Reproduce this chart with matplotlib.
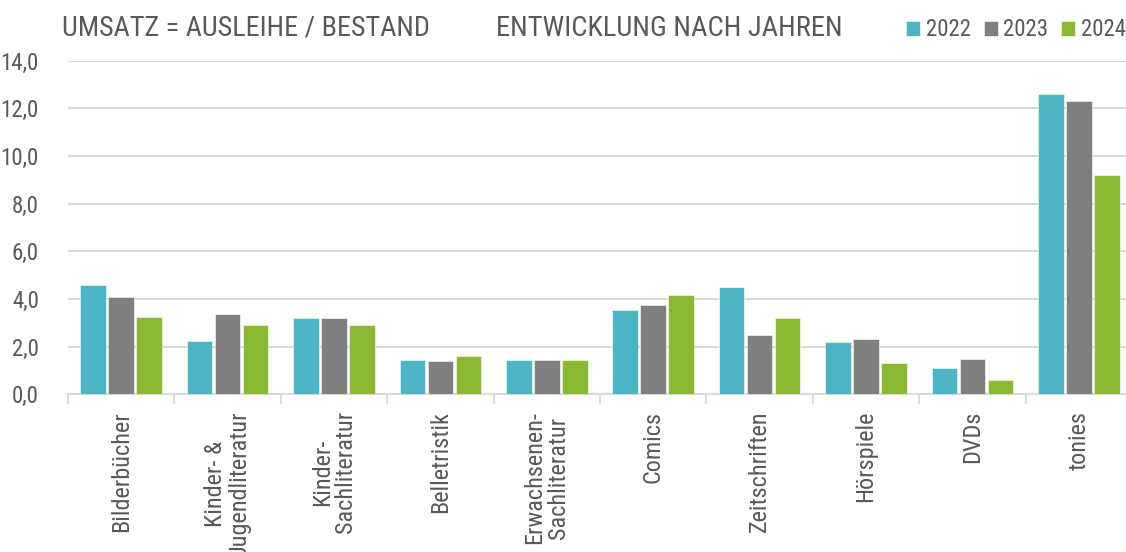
import numpy as np
import matplotlib
matplotlib.use("Agg")
import matplotlib.pyplot as plt

categories = ["Bilderbücher", "Kinder- &\nJugendliteratur", "Kinder-\nSachliteratur",
              "Belletristik", "Erwachsenen-\nSachliteratur", "Comics", "Zeitschriften",
              "Hörspiele", "DVDs", "tonies"]
years = ["2022", "2023", "2024"]
v2022 = [4.6, 2.25, 3.2, 1.42, 1.42, 3.55, 4.5, 2.2, 1.1, 12.6]
v2023 = [4.1, 3.35, 3.22, 1.38, 1.42, 3.76, 2.5, 2.3, 1.48, 12.3]
v2024 = [3.25, 2.9, 2.9, 1.6, 1.42, 4.15, 3.2, 1.3, 0.6, 9.2]
colors = ["#4BB5C6", "#7F7F7F", "#8AB833"]

narrow = ["Roboto Condensed", "Liberation Sans", "DejaVu Sans"]
txt = "#595959"
grid_c = "#D9D9D9"

fig = plt.figure(figsize=(11.26, 5.52), dpi=100)
# axes run slightly past the right edge like in the original
ax = fig.add_axes([68 / 1126, 1 - 394.3 / 552, 1064 / 1126, 333.8 / 552])

x = np.arange(len(categories))
pitch = 0.263
bars = []
for i, (vals, col) in enumerate(zip([v2022, v2023, v2024], colors)):
    b = ax.bar(x + (i - 1) * pitch, vals, width=0.24, color=col,
               edgecolor="white", linewidth=0.4, label=years[i], zorder=3)
    bars.append(b)

ax.set_xlim(-0.5, len(categories) - 0.5)
ax.set_ylim(0, 14)
ax.set_yticks(np.arange(0, 15, 2))
ax.set_yticklabels([f"{t:.1f}".replace(".", ",") for t in np.arange(0, 15, 2)],
                   family=narrow, fontsize=16.5, color=txt)
ax.yaxis.grid(True, color=grid_c, linewidth=1.5, zorder=0)
ax.tick_params(axis="y", length=0, pad=21)

ax.set_xticks(np.arange(-0.5, len(categories), 1), minor=False)
ax.set_xticklabels([])
ax.set_xticks(x, minor=True)
ax.set_xticklabels(categories, minor=True, rotation=90, family=narrow,
                   fontsize=17.5, color=txt, ma="center", linespacing=1.03)
ax.tick_params(axis="x", which="major", length=7, width=1.3, color=grid_c, direction="out")
ax.tick_params(axis="x", which="minor", length=0, pad=12)

for s in ["top", "right", "left"]:
    ax.spines[s].set_visible(False)
ax.spines["bottom"].set_color(grid_c)
ax.spines["bottom"].set_linewidth(1.5)

fig.text(62 / 1126, 1 - 28 / 552, "UMSATZ = AUSLEIHE / BESTAND", family=narrow,
         fontsize=20.3, color=txt, va="center", ha="left")
fig.text(496 / 1126, 1 - 28 / 552, "ENTWICKLUNG NACH JAHREN", family=narrow,
         fontsize=20.5, color=txt, va="center", ha="left")

fig.legend(handles=bars, labels=years, loc="center left",
           bbox_to_anchor=(906 / 1126, 1 - 30 / 552), ncol=3, frameon=False,
           prop={"family": narrow, "size": 16.5}, labelcolor=txt,
           handlelength=0.62, handleheight=0.62, handletextpad=0.25,
           columnspacing=0.55, borderaxespad=0, borderpad=0)

fig.savefig("out.png", dpi=100)
